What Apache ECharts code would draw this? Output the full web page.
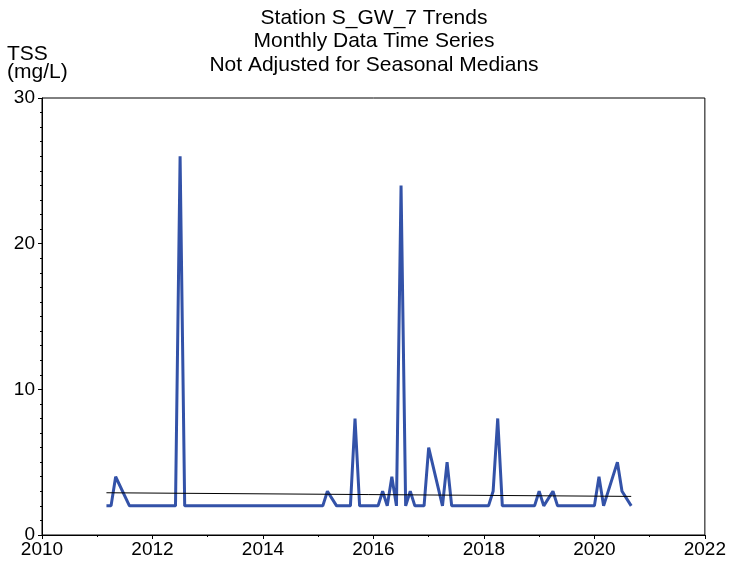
<!DOCTYPE html>
<html>
<head>
<meta charset="utf-8">
<script src="https://cdn.jsdelivr.net/npm/echarts@6/dist/echarts.min.js"></script>
<style>
  html, body { margin: 0; padding: 0; background: #fff; }
  #app { width: 729px; height: 562px; }
</style>
</head>
<body>
<div id="app"></div>
<script>
// monthly TSS samples (only months where the trace changes direction)
const sampleMonths = [
  '2011-03', '2011-04', '2011-05', '2011-08',
  '2012-06', '2012-07', '2012-08',
  '2015-02', '2015-03', '2015-05', '2015-08', '2015-09', '2015-10',
  '2016-02', '2016-03', '2016-04', '2016-05', '2016-06', '2016-07', '2016-08', '2016-09', '2016-10', '2016-12',
  '2017-01', '2017-04', '2017-05', '2017-06',
  '2018-02', '2018-03', '2018-04', '2018-05', '2018-12',
  '2019-01', '2019-02', '2019-04', '2019-05',
  '2020-01', '2020-02', '2020-03', '2020-06', '2020-07', '2020-09'
]
const tssValues = [
  2, 2, 4, 2,
  2, 26, 2,
  2, 3, 2, 2, 8, 2,
  2, 3, 2, 4, 2, 24, 2, 3, 2, 2,
  6, 2, 5, 2,
  2, 3, 8, 2, 2,
  3, 2, 3, 2,
  2, 4, 2, 5, 3, 2
]
const trendMonths = ['2011-03', '2020-09']
const trendValues = [2.9, 2.65]

const xTicks = [2010, 2012, 2014, 2016, 2018, 2020, 2022]
const yTicks = [0, 10, 20, 30]

const titleLines = ['Station S_GW_7 Trends', 'Monthly Data Time Series', 'Not Adjusted for Seasonal Medians']

const FONT = '"Liberation Sans", Arial, Helvetica, sans-serif'

function toYear(s) {
  const [y, m] = s.split('-').map(Number)
  return y + (m - 1) / 12
}

const echart = echarts.init(document.getElementById('app'))

echart.setOption({
  animation: false,
  backgroundColor: '#fff',
  grid: {
    left: 42,
    right: 22,
    top: 98,
    bottom: 27,
    show: true,
    borderColor: '#000',
    borderWidth: 1
  },
  graphic: [
    ...titleLines.map((t, i) => ({
      type: 'text',
      x: 374,
      y: 18 + i * 23.5,
      style: {
        text: t,
        font: '21px ' + FONT,
        fill: '#000',
        textAlign: 'center',
        textVerticalAlign: 'middle'
      }
    })),
    {
      type: 'text',
      x: 7,
      y: 54,
      style: { text: 'TSS', font: '21px ' + FONT, fill: '#000', textVerticalAlign: 'middle' }
    },
    {
      type: 'text',
      x: 7,
      y: 72,
      style: { text: '(mg/L)', font: '21px ' + FONT, fill: '#000', textVerticalAlign: 'middle' }
    }
  ],
  xAxis: {
    type: 'value',
    min: xTicks[0],
    max: xTicks[xTicks.length - 1],
    interval: xTicks[1] - xTicks[0],
    axisLine: { lineStyle: { color: '#000', width: 1 } },
    axisTick: { length: 4, lineStyle: { color: '#000' } },
    minorTick: { show: true, splitNumber: 2, length: 2, lineStyle: { color: '#000' } },
    splitLine: { show: false },
    axisLabel: {
      color: '#000',
      fontSize: 19,
      fontFamily: FONT,
      margin: 5,
      formatter: v => String(v)
    }
  },
  yAxis: {
    type: 'value',
    min: yTicks[0],
    max: yTicks[yTicks.length - 1],
    interval: yTicks[1] - yTicks[0],
    axisLine: { show: true, lineStyle: { color: '#000', width: 1 } },
    axisTick: { show: true, length: 4, lineStyle: { color: '#000' } },
    minorTick: { show: true, splitNumber: 10, length: 2, lineStyle: { color: '#000' } },
    splitLine: { show: false },
    axisLabel: {
      color: '#000',
      fontSize: 19,
      fontFamily: FONT,
      margin: 7
    }
  },
  series: [
    {
      type: 'line',
      name: 'TSS',
      data: sampleMonths.map((m, i) => [toYear(m), tssValues[i]]),
      symbol: 'none',
      lineStyle: { color: '#3352a8', width: 3 }
    },
    {
      type: 'line',
      name: 'Trend',
      data: trendMonths.map((m, i) => [toYear(m), trendValues[i]]),
      symbol: 'none',
      lineStyle: { color: '#000', width: 1 },
      z: 3
    }
  ]
})
</script>
</body>
</html>
